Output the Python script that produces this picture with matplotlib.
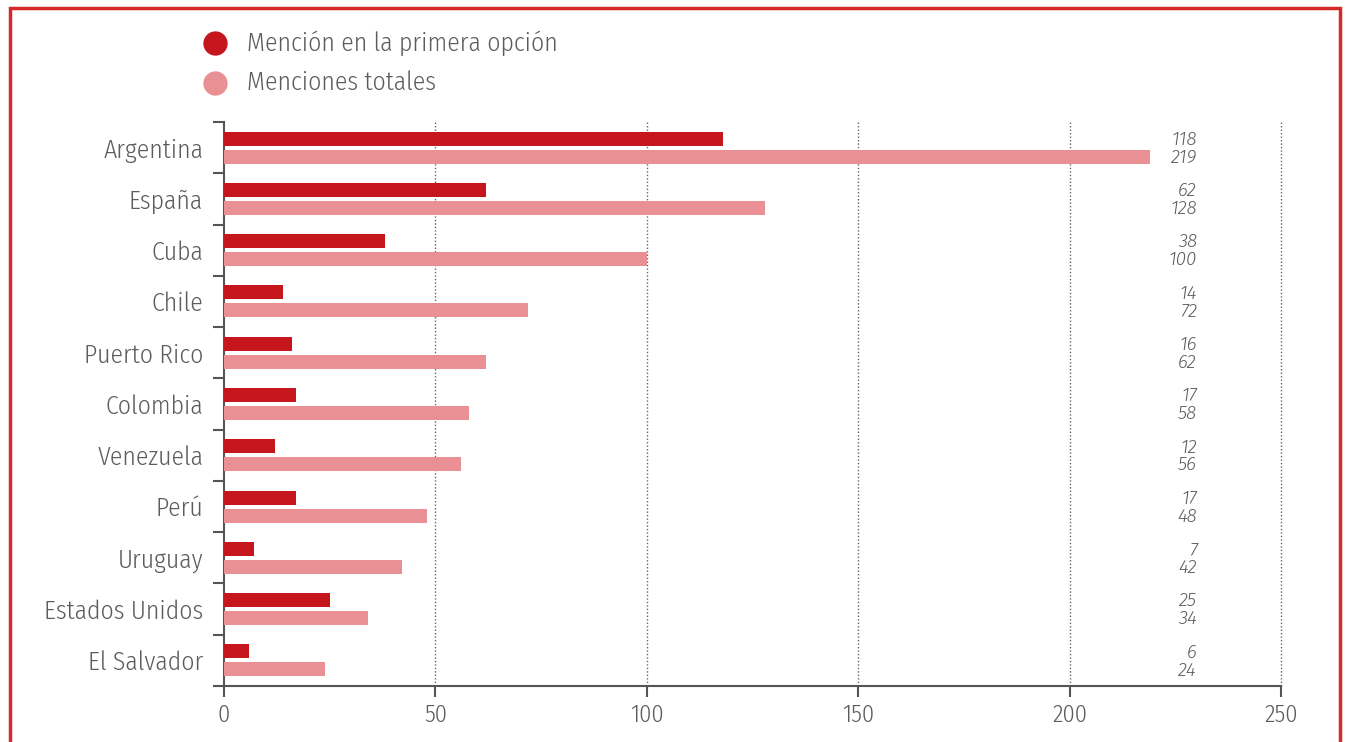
import matplotlib
matplotlib.use("Agg")
import matplotlib.pyplot as plt
from matplotlib.lines import Line2D
from matplotlib.patches import Rectangle
import numpy as np

countries = ["Argentina", "España", "Cuba", "Chile", "Puerto Rico", "Colombia",
             "Venezuela", "Perú", "Uruguay", "Estados Unidos", "El Salvador"]
primera = [118, 62, 38, 14, 16, 17, 12, 17, 7, 25, 6]
totales = [219, 128, 100, 72, 62, 58, 56, 48, 42, 34, 24]
xticks = [0, 50, 100, 150, 200, 250]
series_names = ["Mención en la primera opción", "Menciones totales"]

DARK = "#c4161c"
LIGHT = "#e89093"
TXT = "#5c5c5c"
FONT = ["Fira Sans Condensed", "DejaVu Sans"]
VFONT = ["Fira Sans", "DejaVu Sans"]
plt.rcParams['font.family'] = FONT
plt.rcParams['font.weight'] = 350

W, H = 1346, 742
fig = plt.figure(figsize=(W / 100, H / 100), dpi=100)
ax = fig.add_axes([224 / W, 1 - 686 / H, (1281 - 224) / W, (686 - 122) / H])

n = len(countries)
y = np.arange(n)
bh = 0.273
off = 0.175
ax.barh(y - off, primera, height=bh, color=DARK, zorder=3)
ax.barh(y + off, totales, height=bh, color=LIGHT, zorder=3)

ax.set_ylim(n - 0.5, -0.5)
ax.set_xlim(0, 250)
ax.set_xticks(xticks)
ax.set_xticklabels([str(t) for t in xticks], fontsize=17.5, color=TXT)
ax.set_yticks(y)
ax.set_yticklabels(countries, fontsize=18.5, color=TXT)
ax.tick_params(axis='y', length=0, pad=15)
ax.set_yticks(np.arange(-0.5, n, 1.0), minor=True)
ax.tick_params(axis='y', which='minor', length=8, width=1.5, color="#555555")
ax.tick_params(axis='x', length=8, width=1.5, color="#555555", pad=5)

for s in ["top", "right"]:
    ax.spines[s].set_visible(False)
for s in ["left", "bottom"]:
    ax.spines[s].set_color("#555555")
    ax.spines[s].set_linewidth(1.5)

for xv in xticks[1:]:
    ax.axvline(xv, color="#666666", lw=1.0, ls=(0, (1, 1.5)), zorder=1, clip_on=False)

for i in range(n):
    ax.text(230.1, y[i] - off + 0.02, str(primera[i]), ha='right', va='center',
            fontsize=13.5, style='italic', weight=300, color=TXT, family=VFONT)
    ax.text(230.1, y[i] + off + 0.02, str(totales[i]), ha='right', va='center',
            fontsize=13.5, style='italic', weight=300, color=TXT, family=VFONT)

# legend
for j, (name, col) in enumerate(zip(series_names, [DARK, LIGHT])):
    yy = 1 - (43 + 40 * j) / H
    fig.add_artist(Line2D([215 / W], [yy], marker='o', markersize=16.5,
                          color=col, linestyle='none', transform=fig.transFigure))
    fig.text(247 / W, yy, name, fontsize=18.5, color=TXT, va='center', ha='left')

# frame border
fig.add_artist(Rectangle((10 / W, -0.05), (1340 - 10) / W, 1.05 - 8 / H,
                         fill=False, edgecolor="#d42a2a", lw=2.5,
                         transform=fig.transFigure))

fig.savefig("out.png", dpi=100)
